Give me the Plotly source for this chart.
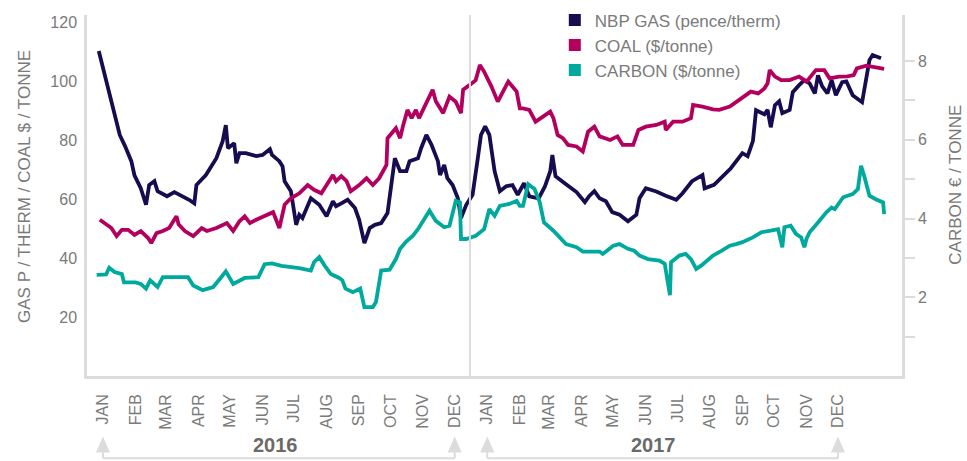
import plotly.graph_objects as go

# ---------------- data ----------------
gas_dates = ["2015-12-28","2016-01-17","2016-01-22","2016-01-28","2016-01-31","2016-02-06","2016-02-11","2016-02-14",
"2016-02-19","2016-02-22","2016-03-02","2016-03-09","2016-03-23","2016-03-28","2016-03-30","2016-04-08","2016-04-18",
"2016-04-24","2016-04-27","2016-04-29","2016-05-05","2016-05-07","2016-05-10","2016-05-16","2016-05-26","2016-06-01",
"2016-06-08","2016-06-10","2016-06-17","2016-06-20","2016-06-22","2016-06-28","2016-07-03","2016-07-06","2016-07-09",
"2016-07-17","2016-07-25","2016-08-01","2016-08-07","2016-08-10","2016-08-15","2016-08-21","2016-08-28","2016-09-01",
"2016-09-06","2016-09-11","2016-09-16","2016-09-22","2016-09-28","2016-10-05","2016-10-10","2016-10-16","2016-10-19",
"2016-10-27","2016-10-30","2016-11-04","2016-11-09","2016-11-15","2016-11-17","2016-11-21","2016-11-24","2016-11-29",
"2016-12-04","2016-12-07","2016-12-12","2016-12-18","2016-12-23","2016-12-26","2016-12-30","2017-01-03","2017-01-08",
"2017-01-13","2017-01-19","2017-01-25","2017-01-30","2017-02-05","2017-02-10","2017-02-19","2017-02-25","2017-03-02",
"2017-03-04","2017-03-07","2017-03-17","2017-03-27","2017-04-04","2017-04-08","2017-04-13","2017-04-18","2017-04-24",
"2017-04-30","2017-05-07","2017-05-15","2017-05-23","2017-05-26","2017-06-01","2017-06-11","2017-06-20","2017-06-30",
"2017-07-06","2017-07-15","2017-07-25","2017-07-27","2017-08-05","2017-08-13","2017-08-21","2017-09-01","2017-09-06",
"2017-09-11","2017-09-14","2017-09-22","2017-09-25","2017-09-28","2017-10-02","2017-10-06","2017-10-09","2017-10-16",
"2017-10-19","2017-10-25","2017-10-30","2017-11-04","2017-11-09","2017-11-12","2017-11-16","2017-11-21","2017-11-25",
"2017-11-29","2017-12-05","2017-12-09","2017-12-15","2017-12-24","2017-12-28","2017-12-31","2018-01-03","2018-01-11"]
gas_values = [110.3,81.8,78.0,72.9,68.1,63.7,58.1,64.8,
66.1,62.7,61.0,62.4,59.8,58.6,64.8,68.2,73.9,
79.7,85.1,77.3,79.0,72.2,75.6,75.6,74.6,75.0,
77.0,75.0,72.9,71.2,66.1,62.7,51.3,54.7,53.6,
60.3,58.1,54.2,59.3,57.6,58.6,59.8,57.0,53.0,
45.1,50.2,51.3,51.9,55.3,73.9,69.5,69.5,72.9,
73.9,77.3,81.8,78.4,72.9,68.2,71.6,67.1,64.8,
60.3,53.6,58.1,61.5,73.9,81.8,84.7,81.8,69.5,
62.7,64.4,64.8,61.5,65.4,61.0,60.3,64.4,69.5,
75.0,67.8,65.1,62.4,59.0,61.0,62.7,60.3,59.3,
55.6,54.7,52.5,54.7,60.3,63.7,62.6,61.2,59.8,
62.0,66.1,68.2,63.7,64.9,67.8,70.5,75.6,74.6,
79.7,90.2,88.8,90.3,84.4,91.9,93.2,89.2,90.3,
96.3,98.7,100.4,99.3,95.9,102.0,98.3,95.9,100.4,
95.3,99.7,100.0,95.3,92.9,101.0,107.2,108.9,107.8]

coal_dates = ["2015-12-29","2016-01-04","2016-01-09","2016-01-14","2016-01-19","2016-01-25","2016-01-31","2016-02-06",
"2016-02-13","2016-02-16","2016-02-21","2016-02-27","2016-03-04","2016-03-11","2016-03-13","2016-03-19","2016-03-27",
"2016-04-04","2016-04-09","2016-04-18","2016-04-28","2016-05-04","2016-05-10","2016-05-15","2016-05-20","2016-05-26",
"2016-06-05","2016-06-11","2016-06-17","2016-06-22","2016-06-28","2016-07-06","2016-07-14","2016-07-20","2016-07-27",
"2016-08-01","2016-08-07","2016-08-10","2016-08-15","2016-08-20","2016-08-24","2016-09-01","2016-09-08","2016-09-14",
"2016-09-20","2016-09-27","2016-09-28","2016-10-06","2016-10-10","2016-10-13","2016-10-17","2016-10-21","2016-10-25",
"2016-10-28","2016-11-04","2016-11-10","2016-11-13","2016-11-20","2016-11-26","2016-12-02","2016-12-07","2016-12-09",
"2016-12-15","2016-12-21","2016-12-25","2016-12-29","2017-01-05","2017-01-11","2017-01-21","2017-01-29","2017-02-01",
"2017-02-04","2017-02-10","2017-02-16","2017-02-21","2017-03-02","2017-03-05","2017-03-09","2017-03-14","2017-03-19",
"2017-03-27","2017-04-02","2017-04-07","2017-04-13","2017-04-18","2017-04-28","2017-05-05","2017-05-10","2017-05-20",
"2017-05-25","2017-06-01","2017-06-11","2017-06-19","2017-06-20","2017-06-27","2017-07-06","2017-07-14","2017-07-16",
"2017-07-25","2017-08-04","2017-08-10","2017-08-20","2017-08-31","2017-09-09","2017-09-16","2017-09-22","2017-09-25",
"2017-09-27","2017-10-02","2017-10-08","2017-10-16","2017-10-25","2017-11-01","2017-11-06","2017-11-10","2017-11-18",
"2017-11-23","2017-12-02","2017-12-10","2017-12-16","2017-12-19","2017-12-28","2018-01-03","2018-01-14"]
coal_values = [53.0,51.3,50.2,47.5,49.6,49.6,47.9,49.2,
46.8,45.1,48.5,49.2,50.2,54.2,51.5,49.2,47.5,
50.2,49.2,50.2,51.9,49.2,52.5,54.2,51.9,53.0,
54.7,55.6,50.2,58.1,60.3,62.0,64.8,63.2,62.0,
64.8,68.2,66.1,67.8,66.1,62.7,64.8,67.1,64.8,
67.1,71.6,80.7,84.1,80.7,85.2,90.3,87.5,90.3,
87.5,92.5,97.1,93.2,89.2,94.8,93.1,89.2,97.1,
98.7,100.4,105.5,103.3,98.2,93.1,99.9,96.5,90.8,
90.8,90.3,86.3,87.5,89.7,87.5,81.8,80.7,78.4,
77.9,76.2,82.9,84.6,81.3,80.1,81.3,78.4,78.4,
83.5,84.6,85.2,86.3,83.5,86.3,86.3,87.5,92.0,
91.4,90.5,90.3,91.4,94.2,96.5,95.9,97.6,99.3,
103.8,101.6,100.4,100.4,101.6,99.9,102.1,103.8,103.8,
101.0,101.6,101.7,102.1,104.4,105.3,105.0,104.2]

carbon_dates = ["2015-12-26","2016-01-04","2016-01-07","2016-01-12","2016-01-19","2016-01-21","2016-02-01","2016-02-06",
"2016-02-11","2016-02-15","2016-02-22","2016-02-27","2016-03-22","2016-03-27","2016-04-05","2016-04-15","2016-04-22",
"2016-04-27","2016-05-04","2016-05-15","2016-05-28","2016-06-03","2016-06-10","2016-06-19","2016-07-06","2016-07-17",
"2016-07-20","2016-07-25","2016-07-30","2016-08-05","2016-08-13","2016-08-16","2016-08-19","2016-08-26","2016-09-02",
"2016-09-06","2016-09-14","2016-09-17","2016-09-22","2016-09-30","2016-10-06","2016-10-10","2016-10-16","2016-10-22",
"2016-10-27","2016-11-07","2016-11-13","2016-11-21","2016-11-26","2016-12-02","2016-12-06","2016-12-07","2016-12-12",
"2016-12-21","2016-12-29","2017-01-03","2017-01-08","2017-01-13","2017-01-22","2017-01-29","2017-02-01","2017-02-04",
"2017-02-09","2017-02-15","2017-02-20","2017-02-24","2017-03-05","2017-03-13","2017-03-17","2017-03-27","2017-04-02",
"2017-04-18","2017-04-21","2017-05-01","2017-05-07","2017-05-15","2017-05-21","2017-05-26","2017-06-03","2017-06-14",
"2017-06-19","2017-06-24","2017-06-25","2017-07-03","2017-07-09","2017-07-14","2017-07-19","2017-07-24","2017-07-29",
"2017-08-04","2017-08-12","2017-08-20","2017-08-26","2017-09-01","2017-09-11","2017-09-19","2017-09-28","2017-10-05",
"2017-10-09","2017-10-11","2017-10-17","2017-10-22","2017-10-27","2017-10-30","2017-11-01","2017-11-04","2017-11-12",
"2017-11-20","2017-11-25","2017-11-28","2017-12-06","2017-12-15","2017-12-20","2017-12-23","2017-12-26","2017-12-31",
"2018-01-06","2018-01-13","2018-01-14"]
carbon_values = [2.57,2.58,2.75,2.64,2.59,2.38,2.38,2.34,
2.22,2.43,2.26,2.51,2.51,2.30,2.18,2.26,2.49,
2.66,2.34,2.49,2.51,2.84,2.86,2.80,2.74,2.68,
2.89,3.02,2.81,2.59,2.49,2.43,2.22,2.13,2.22,
1.75,1.75,1.88,2.68,2.70,2.97,3.23,3.42,3.56,
3.73,4.20,3.94,3.78,3.82,4.45,4.41,3.48,3.48,
3.56,3.73,4.24,4.07,4.32,4.37,4.45,4.32,4.32,
4.87,4.75,4.41,3.90,3.69,3.48,3.35,3.27,3.16,
3.16,3.10,3.31,3.35,3.23,3.18,3.06,2.97,2.93,
2.85,2.05,2.89,3.06,3.10,2.97,2.72,2.81,2.93,
3.06,3.18,3.31,3.35,3.40,3.52,3.65,3.69,3.73,
3.27,3.78,3.82,3.61,3.52,3.27,3.48,3.65,3.90,
4.16,4.28,4.24,4.54,4.62,4.75,5.34,5.08,4.58,
4.49,4.41,4.11]

month_ticks = ["2016-01-01","2016-02-01","2016-03-01","2016-04-01","2016-05-01","2016-06-01","2016-07-01","2016-08-01",
"2016-09-01","2016-10-01","2016-11-01","2016-12-01","2017-01-01","2017-02-01","2017-03-01","2017-04-01","2017-05-01",
"2017-06-01","2017-07-01","2017-08-01","2017-09-01","2017-10-01","2017-11-01","2017-12-01"]
month_labels = ["JAN","FEB","MAR","APR","MAY","JUN","JUL","AUG","SEP","OCT","NOV","DEC"] * 2
left_ticks = [20, 40, 60, 80, 100, 120]
right_ticks = [1, 2, 3, 4, 5, 6, 7, 8]
right_labels = ["", "2", "", "4", "", "6", "", "8"]
years = ["2016", "2017"]
year_centers = ["2016-06-13", "2017-06-08"]
year_spans = [("2016-01-01", "2016-12-01"), ("2017-01-01", "2017-12-01")]
divider_date = "2016-12-15 12:00"

names = ["NBP GAS (pence/therm)", "COAL ($/tonne)", "CARBON ($/tonne)"]
colors = ["#170c4f", "#b3005f", "#00a99d"]

FONT = "Liberation Sans, Arial, sans-serif"
GREY = "#7a7a7a"
AXC = "#dcdcdc"

fig = go.Figure()
fig.add_trace(go.Scatter(x=gas_dates, y=gas_values, mode="lines", line=dict(color=colors[0], width=3.8),
                         showlegend=False, yaxis="y"))
fig.add_trace(go.Scatter(x=coal_dates, y=coal_values, mode="lines", line=dict(color=colors[1], width=3.8),
                         showlegend=False, yaxis="y"))
fig.add_trace(go.Scatter(x=carbon_dates, y=carbon_values, mode="lines", line=dict(color=colors[2], width=3.8),
                         showlegend=False, yaxis="y2"))
for n, c in zip(names, colors):
    fig.add_trace(go.Scatter(x=[None], y=[None], mode="markers", name=n,
                             marker=dict(symbol="square", size=12, color=c)))

shapes = [dict(type="line", xref="x", yref="paper", x0=divider_date, x1=divider_date, y0=0, y1=1,
               line=dict(color=AXC, width=2))]
annotations = []
for (a, b) in year_spans:
    # bracket line under the year label
    shapes.append(dict(type="line", xref="x", yref="paper", x0=a, x1=b, y0=-0.228, y1=-0.228,
                       line=dict(color=AXC, width=2)))
    for d in (a, b):
        # short stem from bracket up to the arrow head
        shapes.append(dict(type="line", xref="x", yref="paper", x0=d, x1=d, y0=-0.228, y1=-0.205,
                           line=dict(color=AXC, width=2)))
        # arrow head (triangle), size in pixels anchored at the month date
        shapes.append(dict(type="path", xref="x", yref="paper", xsizemode="pixel", ysizemode="pixel",
                           xanchor=d, yanchor=-0.19, path="M-7,-8 L7,-8 L0,8 Z",
                           fillcolor=AXC, line=dict(width=0)))
for t, c in zip(years, year_centers):
    annotations.append(dict(x=c, y=-0.191, xref="x", yref="paper", text="<b>%s</b>" % t, showarrow=False,
                            font=dict(family=FONT, size=20, color="#6a6a6a"), yanchor="middle"))
annotations.append(dict(x=-0.0767, y=0.525, xref="paper", yref="paper", text="GAS P / THERM / COAL $ / TONNE",
                        textangle=-90, showarrow=False, xanchor="center", yanchor="middle",
                        font=dict(family=FONT, size=17, color=GREY)))
annotations.append(dict(x=1.0663, y=0.53, xref="paper", yref="paper", text="CARBON € / TONNE",
                        textangle=-90, showarrow=False, xanchor="center", yanchor="middle",
                        font=dict(family=FONT, size=17, color=GREY)))

fig.update_layout(
    width=967, height=461,
    margin=dict(l=87, r=65, t=15, b=85, autoexpand=False),
    paper_bgcolor="white", plot_bgcolor="white",
    font=dict(family=FONT, color=GREY),
    xaxis=dict(type="date", range=["2015-12-16 19:00", "2018-01-31"], tickvals=month_ticks, ticktext=month_labels,
               tickangle=-90, tickfont=dict(size=16, color=GREY), showgrid=False, zeroline=False,
               showline=True, linecolor=AXC, linewidth=2.5, ticks="", ticklabelstandoff=9, automargin=False),
    yaxis=dict(range=[0, 122.5], tickvals=left_ticks, showgrid=False, zeroline=False, showline=True,
               linecolor=AXC, linewidth=2.5, ticks="", tickfont=dict(size=16, color=GREY), ticklabelstandoff=4,
               automargin=False),
    yaxis2=dict(range=[0, 9.17], overlaying="y", side="right", tickvals=right_ticks, ticktext=right_labels,
                showgrid=False, zeroline=False, showline=True, linecolor=AXC, linewidth=2.5,
                ticks="outside", ticklen=10, tickwidth=2, tickcolor=AXC, tickfont=dict(size=16, color=GREY),
                automargin=False),
    legend=dict(x=0.574, y=1.035, xanchor="left", yanchor="top", bgcolor="rgba(0,0,0,0)",
                font=dict(family=FONT, size=17, color=GREY)),
    shapes=shapes, annotations=annotations,
)
fig.write_html("out.html", config={"displayModeBar": False},
               post_script="document.body.style.margin='0px';document.body.style.overflow='hidden';")
